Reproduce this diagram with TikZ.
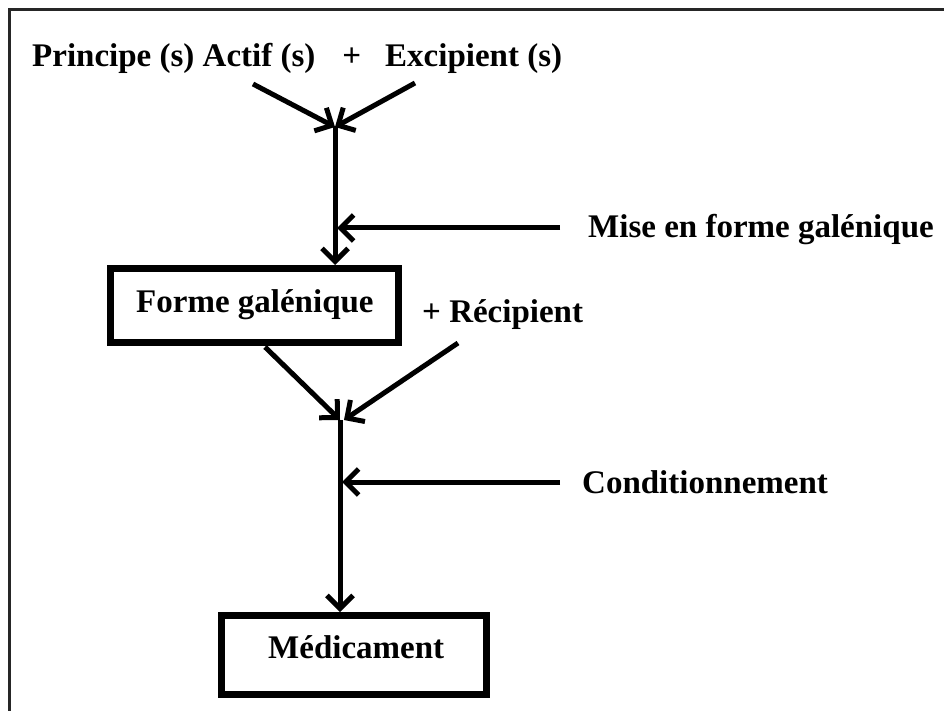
\documentclass[tikz,border=0pt]{standalone}
\usepackage{fontspec}
\setmainfont{Liberation Serif}
\usetikzlibrary{arrows.meta}
\tikzset{
  lbl/.style={font=\fontsize{33}{40}\selectfont\bfseries, inner sep=0pt, anchor=base west},
  boxnode/.style={draw, line width=7pt, inner sep=0pt},
  arr/.style={line width=5pt, -{Straight Barb[length=13pt,width=26pt,line width=5pt]}},
  frame/.style={line width=3pt, draw=black!85}
}
\begin{document}
\begin{tikzpicture}[x=1pt,y=-1pt]
\useasboundingbox (0,0) rectangle (944,711);
% frame (only top and left visible)
\coordinate (fbl) at (9.5,711);
\coordinate (ftl) at (9.5,9.5);
\coordinate (ftr) at (944,9.5);
\draw[frame] (fbl) -- (ftl) -- (ftr);

% texts
\node[lbl] (src) at (32,67) {Principe (s) Actif (s)\hspace{27pt}+\hspace{24pt}Excipient (s)};
\node[lbl] (mise) at (588,238) {Mise en forme galénique};
\node[lbl] (recip) at (422,322) {+ Récipient};
\node[lbl] (cond) at (582,493) {Conditionnement};

% boxes
\node[boxnode, minimum width=288pt, minimum height=74pt] (forme) at (254.5,305.5) {};
\node[lbl] (formetxt) at (136,312) {Forme galénique};
\node[boxnode, minimum width=265pt, minimum height=79pt] (medic) at (354,655) {};
\node[lbl] (medtxt) at (268,658) {Médicament};

% junctions and arrow starts
\coordinate (j1) at (335,127);
\coordinate (a1) at (253,84);
\coordinate (a2) at (415,83);
\coordinate (ms) at (560,228);
\coordinate (j2) at (340,420);
\coordinate (b1) at (265,347);
\coordinate (b2) at (458,343);
\coordinate (cs) at (560,482);

\draw[arr] (a1) -- (j1);
\draw[arr] (a2) -- (j1);
\draw[arr] (j1) -- (j1 |- forme.north);
\draw[arr] (ms) -- ([xshift=2pt]ms -| j1);

\draw[arr] (b1) -- (j2);
\draw[arr] (b2) -- ([xshift=4pt]j2);
\draw[arr] (j2) -- (j2 |- medic.north);
\draw[arr] (cs) -- ([xshift=2pt]cs -| j2);
\end{tikzpicture}
\end{document}
